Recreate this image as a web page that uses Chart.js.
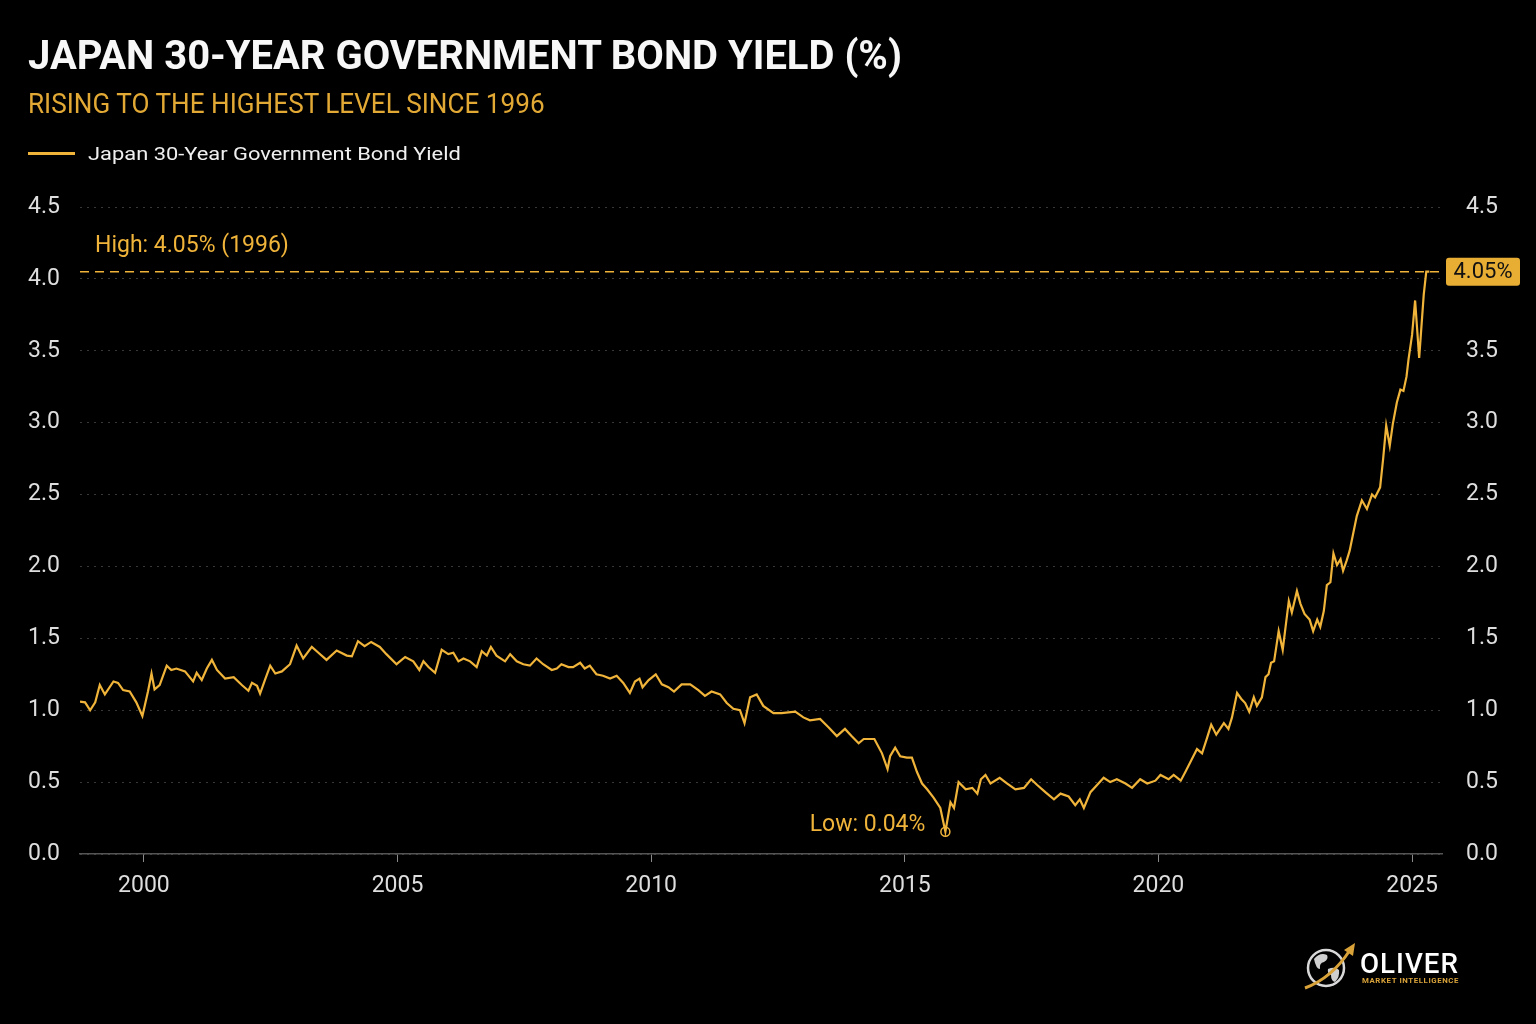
<!DOCTYPE html>
<html>
<head>
<meta charset="utf-8">
<script src="https://cdn.jsdelivr.net/npm/chart.js@4"></script>
<style>
  html, body { margin: 0; padding: 0; background: #000; }
  #page { position: relative; width: 1536px; height: 1024px; background: #000; overflow: hidden; font-family: Roboto, "Noto Sans", sans-serif; }
  #chartBox { position: absolute; left: 0; top: 0; width: 1536px; height: 1024px; }
  .fit { position: absolute; white-space: nowrap; transform-origin: 0 0; line-height: 1; }
  #title { left: 28px; top: 36px; font-size: 40px; font-weight: 700; color: #f7f7f7; }
  #subtitle { left: 28px; top: 91px; font-size: 27px; color: #e3a935; }
  #legendLine { position: absolute; left: 28px; top: 152px; width: 47px; height: 3px; background: #f0b43a; }
  #legendText { left: 88px; top: 145px; font-size: 18px; color: #f0f0f0; }
  #logo { position: absolute; left: 1300px; top: 940px; }
  #brand { left: 1360px; top: 950px; font-size: 28px; font-weight: 500; color: #fff; letter-spacing: 1px; }
  #tag { left: 1362px; top: 977px; font-size: 8px; font-weight: 700; color: #d9a33a; letter-spacing: 0.6px; }
</style>
</head>
<body>
<div id="page">
  <div id="chartBox"><canvas id="bondChart"></canvas></div>
  <div id="title" class="fit" data-w="874">JAPAN 30-YEAR GOVERNMENT BOND YIELD (%)</div>
  <div id="subtitle" class="fit" data-w="517">RISING TO THE HIGHEST LEVEL SINCE 1996</div>
  <div id="legendLine"></div>
  <div id="legendText" class="fit" data-w="373">Japan 30-Year Government Bond Yield</div>
  <svg id="logo" width="60" height="54" viewBox="0 0 60 54">
    <circle cx="26" cy="28" r="18" fill="none" stroke="#d8d8d8" stroke-width="2.5"/>
    <path d="M14 19 q6 -7 13 -4 q2 4 -3 7 q-5 1 -4 7 q-4 0 -6 -10z" fill="#cfcfcf"/>
    <path d="M28 29 q7 -3 11 1 q1 7 -4 12 q-4 -1 -4 -7 q-4 -1 -3 -6z" fill="#cfcfcf"/>
    <path d="M5 48 Q32 38 50 10" fill="none" stroke="#d9a33a" stroke-width="3"/>
    <path d="M44 10 L55 3 L53 16 z" fill="#d9a33a"/>
  </svg>
  <div id="brand" class="fit" data-w="99">OLIVER</div>
  <div id="tag" class="fit" data-w="97">MARKET INTELLIGENCE</div>
</div>
<script>
document.querySelectorAll('.fit').forEach(el => {
    const target = parseFloat(el.dataset.w);
    el.style.transform = `scaleX(${target / el.offsetWidth})`;
});

// readings, decimal years
const years = [
    1998.74, 1998.84, 1998.94, 1999.04, 1999.13, 1999.23, 1999.40, 1999.49, 1999.59, 1999.72, 1999.85, 1999.97,
    2000.08, 2000.15, 2000.21, 2000.31, 2000.45, 2000.54, 2000.64, 2000.81, 2000.97,
    2001.04, 2001.14, 2001.24, 2001.34, 2001.44, 2001.60, 2001.77, 2001.93,
    2002.06, 2002.13, 2002.23, 2002.29, 2002.39, 2002.49, 2002.59, 2002.72, 2002.88,
    2003.01, 2003.14, 2003.31, 2003.44, 2003.60, 2003.80,
    2004.00, 2004.10, 2004.22, 2004.35, 2004.48, 2004.65, 2004.78, 2004.98,
    2005.15, 2005.31, 2005.43, 2005.51, 2005.61, 2005.74, 2005.87,
    2006.00, 2006.10, 2006.20, 2006.30, 2006.43, 2006.56, 2006.66, 2006.76, 2006.84, 2006.95,
    2007.12, 2007.22, 2007.35, 2007.48, 2007.61, 2007.74, 2007.87,
    2008.04, 2008.14, 2008.23, 2008.37, 2008.46, 2008.60, 2008.69, 2008.79, 2008.92,
    2009.05, 2009.19, 2009.32, 2009.45, 2009.58, 2009.68, 2009.77, 2009.83, 2009.95,
    2010.09, 2010.21, 2010.34, 2010.45, 2010.60, 2010.77, 2010.93,
    2011.06, 2011.19, 2011.36, 2011.49, 2011.62, 2011.75, 2011.84, 2011.95,
    2012.08, 2012.21, 2012.41, 2012.57, 2012.84,
    2013.00, 2013.13, 2013.33, 2013.50, 2013.66, 2013.82, 2013.95,
    2014.09, 2014.19, 2014.40, 2014.55, 2014.66, 2014.71, 2014.81, 2014.91,
    2015.04, 2015.14, 2015.24, 2015.34, 2015.44, 2015.57, 2015.70, 2015.80, 2015.90, 2015.97,
    2016.06, 2016.20, 2016.33, 2016.43, 2016.50, 2016.59, 2016.69, 2016.87,
    2017.02, 2017.18, 2017.35, 2017.49, 2017.61, 2017.77, 2017.94,
    2018.07, 2018.23, 2018.36, 2018.45, 2018.53, 2018.66, 2018.79, 2018.92,
    2019.05, 2019.18, 2019.35, 2019.48, 2019.64, 2019.78, 2019.94,
    2020.04, 2020.20, 2020.30, 2020.44, 2020.53, 2020.66, 2020.76, 2020.86, 2020.96,
    2021.04, 2021.14, 2021.29, 2021.38, 2021.45, 2021.55, 2021.63, 2021.71, 2021.79, 2021.88, 2021.94,
    2022.04, 2022.11, 2022.17, 2022.22, 2022.28, 2022.37, 2022.45, 2022.57, 2022.63, 2022.73, 2022.80, 2022.88, 2022.98,
    2023.05, 2023.13, 2023.19, 2023.26, 2023.32, 2023.39, 2023.45, 2023.52, 2023.59, 2023.64, 2023.71, 2023.77, 2023.91,
    2024.01, 2024.11, 2024.21, 2024.27, 2024.37, 2024.43, 2024.49, 2024.56, 2024.62, 2024.70, 2024.77, 2024.83, 2024.89, 2024.93,
    2025.00, 2025.06, 2025.14, 2025.23, 2025.28, 2025.34
];

const yields = [
    1.06, 1.055, 1.00, 1.055, 1.175, 1.11, 1.20, 1.19, 1.14, 1.13, 1.055, 0.96,
    1.13, 1.255, 1.145, 1.175, 1.31, 1.28, 1.29, 1.27, 1.20,
    1.26, 1.21, 1.29, 1.35, 1.28, 1.22, 1.23, 1.175,
    1.135, 1.19, 1.17, 1.115, 1.215, 1.31, 1.255, 1.27, 1.32,
    1.45, 1.36, 1.44, 1.40, 1.35, 1.415,
    1.38, 1.375, 1.48, 1.445, 1.475, 1.44, 1.39, 1.32,
    1.37, 1.34, 1.28, 1.34, 1.30, 1.26, 1.42,
    1.39, 1.40, 1.34, 1.36, 1.34, 1.30, 1.41, 1.38, 1.44, 1.38,
    1.34, 1.39, 1.34, 1.32, 1.31, 1.36, 1.32,
    1.28, 1.29, 1.32, 1.30, 1.30, 1.33, 1.29, 1.31, 1.25,
    1.24, 1.22, 1.24, 1.19, 1.12, 1.20, 1.22, 1.16, 1.21,
    1.25, 1.18, 1.16, 1.13, 1.18, 1.18, 1.14,
    1.10, 1.13, 1.11, 1.05, 1.01, 1.00, 0.91, 1.09,
    1.11, 1.03, 0.98, 0.98, 0.99,
    0.95, 0.93, 0.94, 0.88, 0.82, 0.87, 0.82,
    0.77, 0.80, 0.80, 0.70, 0.59, 0.68, 0.74, 0.68,
    0.67, 0.67, 0.57, 0.49, 0.45, 0.39, 0.32, 0.155, 0.36, 0.32,
    0.50, 0.45, 0.46, 0.42, 0.52, 0.55, 0.49, 0.53,
    0.49, 0.45, 0.46, 0.52, 0.48, 0.43, 0.38,
    0.42, 0.40, 0.34, 0.38, 0.32, 0.43, 0.48, 0.53,
    0.50, 0.52, 0.49, 0.46, 0.52, 0.49, 0.51,
    0.55, 0.52, 0.55, 0.51, 0.57, 0.66, 0.73, 0.70, 0.81,
    0.90, 0.83, 0.91, 0.87, 0.95, 1.12, 1.08, 1.05, 0.99, 1.09, 1.03,
    1.09, 1.23, 1.25, 1.33, 1.34, 1.55, 1.42, 1.76, 1.68, 1.83, 1.74, 1.67, 1.63,
    1.55, 1.63, 1.58, 1.69, 1.87, 1.89, 2.09, 2.01, 2.05, 1.97, 2.04, 2.11, 2.35,
    2.46, 2.40, 2.50, 2.48, 2.55, 2.75, 2.98, 2.84, 2.99, 3.14, 3.23, 3.22, 3.32, 3.44,
    3.61, 3.85, 3.45, 3.89, 4.05, 4.05
];

const xTicks = [2000, 2005, 2010, 2015, 2020, 2025];
const yTicks = [0, 0.5, 1.0, 1.5, 2.0, 2.5, 3.0, 3.5, 4.0, 4.5];
const highValue = 4.05;
const highLabel = 'High: 4.05% (1996)';
const lowLabel = 'Low: 0.04%';

const GOLD = '#f0b43a';
const TICK_COLOR = '#dedede';
const FONT = 'Roboto, "Noto Sans", sans-serif';
const tickFont = { family: FONT, size: 23 };

const points = years.map((x, i) => ({ x: x, y: yields[i] }));

const annotations = {
    id: 'annotations',
    afterDatasetsDraw(chart) {
        const { ctx, chartArea } = chart;
        const x = chart.scales.x;
        const y = chart.scales.y;
        const hy = y.getPixelForValue(highValue);

        ctx.save();
        ctx.strokeStyle = GOLD;
        ctx.lineWidth = 1.5;
        ctx.setLineDash([9, 6]);
        ctx.beginPath();
        ctx.moveTo(chartArea.left, hy);
        ctx.lineTo(chartArea.right, hy);
        ctx.stroke();
        ctx.setLineDash([]);

        ctx.fillStyle = GOLD;
        ctx.font = '23px ' + FONT;
        ctx.textBaseline = 'middle';
        ctx.textAlign = 'left';
        ctx.fillText(highLabel, chartArea.left + 15, hy - 25);

        // low point marker
        let li = 0;
        yields.forEach((v, i) => { if (v < yields[li]) li = i; });
        const lx = x.getPixelForValue(years[li]);
        const ly = y.getPixelForValue(yields[li]);
        ctx.lineWidth = 1.5;
        ctx.beginPath();
        ctx.arc(lx, ly, 4.5, 0, Math.PI * 2);
        ctx.stroke();
        ctx.font = '23px ' + FONT;
        ctx.textAlign = 'right';
        ctx.fillText(lowLabel, lx - 20, ly - 6);
        ctx.restore();
    },
    afterDraw(chart) {
        const { ctx, chartArea } = chart;
        const hy = chart.scales.y.getPixelForValue(highValue);
        const bx = chartArea.right + 4, bw = 74, bh = 28;
        ctx.save();
        ctx.fillStyle = '#e8ae34';
        ctx.beginPath();
        ctx.roundRect(bx, hy - bh / 2, bw, bh, 3);
        ctx.fill();
        ctx.fillStyle = '#111';
        ctx.font = '22px ' + FONT;
        ctx.textAlign = 'center';
        ctx.textBaseline = 'middle';
        ctx.fillText(highValue.toFixed(2) + '%', bx + bw / 2, hy + 1);
        ctx.restore();
    }
};

const yAxis = (side) => ({
    type: 'linear',
    position: side,
    min: 0,
    max: 4.5,
    afterFit: s => { s.width = side === 'left' ? 80 : 94; },
    afterBuildTicks: s => { s.ticks = yTicks.map(v => ({ value: v })); },
    grid: {
        display: side === 'left',
        drawTicks: false,
        color: 'rgba(255, 255, 255, 0.22)',
        lineWidth: 1
    },
    border: { display: false, dash: [2, 5] },
    ticks: {
        padding: side === 'left' ? 20 : 24,
        color: TICK_COLOR,
        font: tickFont,
        callback: v => v.toFixed(1)
    }
});

const ctx = document.getElementById('bondChart').getContext('2d');
const bondChart = new Chart(ctx, {
    type: 'line',
    data: {
        datasets: [{
            label: 'Japan 30-Year Government Bond Yield',
            data: points,
            borderColor: GOLD,
            borderWidth: 2.2,
            pointRadius: 0,
            tension: 0,
            yAxisID: 'y'
        }]
    },
    options: {
        responsive: true,
        maintainAspectRatio: false,
        animation: false,
        layout: { padding: { top: 207, left: 0, right: 0, bottom: 0 } },
        scales: {
            x: {
                type: 'linear',
                min: 1998.74,
                max: 2025.59,
                afterFit: s => { s.height = 170; },
                afterBuildTicks: s => { s.ticks = xTicks.map(v => ({ value: v })); },
                grid: {
                    drawOnChartArea: false,
                    drawTicks: true,
                    tickLength: 8,
                    color: '#8a8a8a'
                },
                border: { display: true, color: '#555', width: 1.5 },
                ticks: {
                    padding: 10,
                    color: TICK_COLOR,
                    font: tickFont,
                    maxRotation: 0,
                    callback: v => String(v)
                }
            },
            y: yAxis('left'),
            y2: yAxis('right')
        },
        plugins: {
            legend: { display: false },
            tooltip: { enabled: false }
        }
    },
    plugins: [annotations]
});
</script>
</body>
</html>
